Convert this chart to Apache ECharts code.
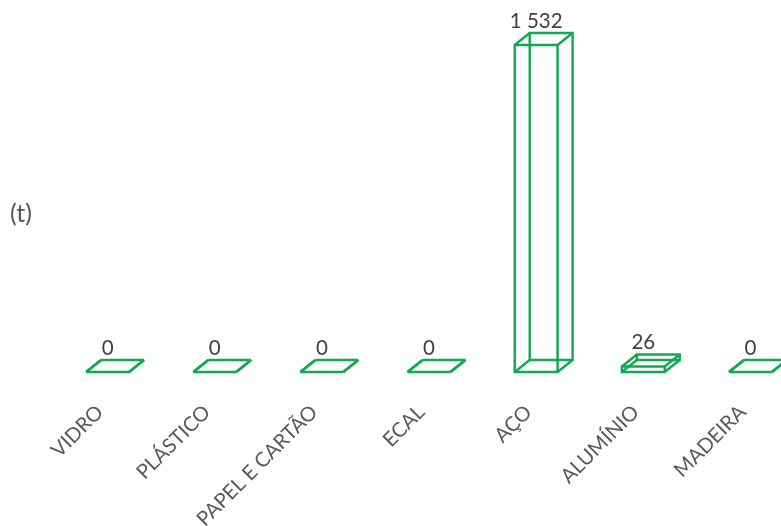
<!DOCTYPE html>
<html><head><meta charset="utf-8">
<style>html,body{margin:0;padding:0;background:#fff;overflow:hidden;width:781px;height:526px}#c{width:815px;height:526px}</style>
<script src="https://cdn.jsdelivr.net/npm/echarts@6/dist/echarts.min.js"></script></head>
<body><div id="c"></div>
<script>
const categories = ['VIDRO','PLÁSTICO','PAPEL E CARTÃO','ECAL','AÇO','ALUMÍNIO','MADEIRA'];
const values = [0,0,0,0,1532,26,0];
const valueLabels = ['0','0','0','0','1 532','26','0'];
const unitLabel = '(t)';
const GREEN = '#12A84F', LABEL = '#404040', AXIS = '#595959', FONT = 'Lato';
const DX = 15, DY = 12;

const chart = echarts.init(document.getElementById('c'));
chart.setOption({
  animation:false,
  backgroundColor:'#fff',
  title:{text:unitLabel,left:5,top:196,textStyle:{color:AXIS,fontFamily:FONT,fontSize:25,fontWeight:'normal'}},
  grid:{left:54,top:45,width:750,height:327,containLabel:false,outerBoundsMode:'none'},
  xAxis:{type:'category',data:categories,
    axisLine:{show:false},axisTick:{show:false},splitLine:{show:false},
    axisLabel:{interval:0,rotate:45,margin:29,padding:[0,11,0,0],color:AXIS,fontFamily:FONT,fontSize:20.3,hideOverlap:false}},
  yAxis:{type:'value',min:0,max:1532,show:false},
  series:[{
    type:'custom',clip:false,
    encode:{x:0,y:1},
    data:values.map((v,i)=>[i,v]),
    renderItem(params,api){
      const i=api.value(0),v=api.value(1);
      const top=api.coord([i,v]),base=api.coord([i,0]);
      const w=api.size([1,0])[0]*0.4;
      const x0=top[0]-w/2,x1=top[0]+w/2,yb=base[1],yt=top[1];
      const s={fill:null,stroke:GREEN,lineWidth:2.4,lineJoin:'miter'};
      const poly=p=>({type:'polygon',shape:{points:p},style:s});
      const seg=p=>({type:'polyline',shape:{points:p},style:s});
      return {type:'group',children:[
        poly([[x0,yb],[x1,yb],[x1,yt],[x0,yt]]),
        poly([[x0+DX,yb-DY],[x1+DX,yb-DY],[x1+DX,yt-DY],[x0+DX,yt-DY]]),
        seg([[x0,yb],[x0+DX,yb-DY]]),
        seg([[x1,yb],[x1+DX,yb-DY]]),
        seg([[x0,yt],[x0+DX,yt-DY]]),
        seg([[x1,yt],[x1+DX,yt-DY]]),
        {type:'text',style:{text:valueLabels[i],x:top[0],y:yt-DY-1.5,align:'center',verticalAlign:'bottom',
          fill:LABEL,font:'20.5px '+FONT}}
      ]};
    }
  }]
});
</script></body></html>
